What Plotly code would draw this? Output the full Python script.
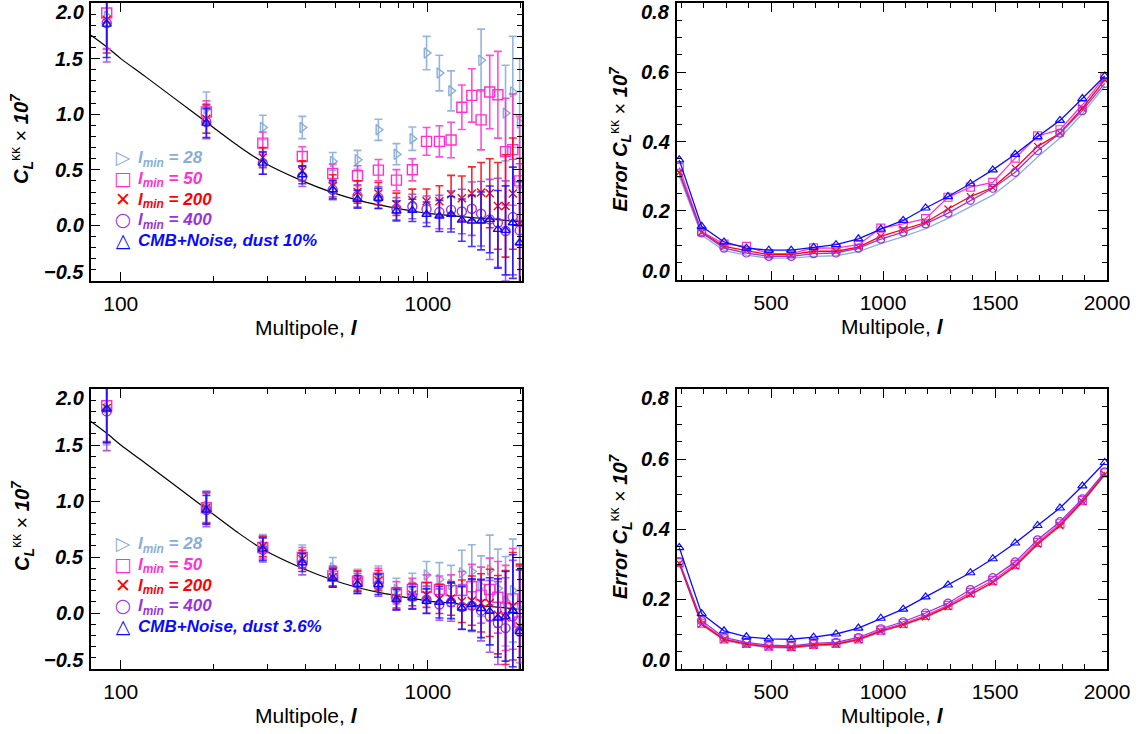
import math
import plotly.graph_objects as go

# ---------------------------------------------------------------- data
ell = [90, 190, 290, 390, 490, 590, 690, 790, 890, 990,
       1090, 1190, 1290, 1390, 1490, 1590, 1690, 1790, 1890, 1990]

# fiducial lensing power spectrum (x 1e7)
theory_l = [80, 90, 100, 120, 150, 190, 240, 290, 390, 490, 590, 690,
            790, 890, 990, 1190, 1390, 1590, 1790, 1990, 2030]
theory_c = [1.71, 1.605, 1.50, 1.34, 1.14, 0.928, 0.72, 0.57, 0.40, 0.295, 0.228, 0.184,
            0.154, 0.13, 0.108, 0.088, 0.07, 0.058, 0.045, 0.033, 0.031]

# reconstructed spectra, dust 10%
c28_a = [1.88, 1.05, 0.88, 0.88, 0.575, 0.59, 0.86, 0.64, 0.78, 1.55,
         1.37, 1.21, 2.45, 2.70, 1.485, 2.50, 2.65, 1.01, 1.20, 0.92]
e28_a = [0.30, 0.15, 0.11, 0.10, 0.08, 0.085, 0.095, 0.095, 0.105, 0.15,
         0.16, 0.18, 0.22, 0.25, 0.28, 0.32, 0.36, 0.43, 0.50, 0.58]
c50_a = [1.91, 1.02, 0.74, 0.62, 0.467, 0.446, 0.497, 0.407, 0.50, 0.756,
         0.756, 0.768, 1.063, 1.169, 0.949, 1.199, 1.175, 0.663, 0.681, 0.40]
e50_a = [0.32, 0.10, 0.10, 0.087, 0.085, 0.09, 0.095, 0.095, 0.10, 0.125,
         0.14, 0.16, 0.20, 0.24, 0.27, 0.33, 0.39, 0.48, 0.50, 0.58]
c200_a = [1.85, 0.96, 0.61, 0.49, 0.355, 0.30, 0.286, 0.19, 0.226, 0.217,
          0.217, 0.28, 0.244, 0.286, 0.295, 0.289, 0.175, 0.175, 0.286, 0.024]
e200_a = [0.30, 0.13, 0.09, 0.09, 0.10, 0.10, 0.10, 0.10, 0.10, 0.11,
          0.14, 0.17, 0.20, 0.24, 0.27, 0.31, 0.39, 0.46, 0.50, 0.58]
c400_a = [1.82, 0.93, 0.56, 0.44, 0.32, 0.265, 0.25, 0.15, 0.17, 0.145,
          0.12, 0.14, 0.125, 0.15, 0.105, 0.054, 0.024, -0.05, 0.075, -0.045]
e400_a = [0.35, 0.15, 0.10, 0.09, 0.09, 0.10, 0.10, 0.10, 0.11, 0.12,
          0.15, 0.17, 0.20, 0.24, 0.29, 0.36, 0.40, 0.45, 0.52, 0.60]
cmb_a = [1.81, 0.92, 0.56, 0.455, 0.32, 0.235, 0.244, 0.13, 0.135, 0.10,
         0.085, 0.10, 0.048, 0.04, 0.04, 0.054, -0.036, -0.045, 0.024, -0.156]
ecmb_a = [0.30, 0.13, 0.10, 0.08, 0.08, 0.08, 0.09, 0.09, 0.10, 0.11,
          0.14, 0.16, 0.19, 0.23, 0.26, 0.30, 0.35, 0.40, 0.50, 0.55]

# reconstructed spectra, dust 3.6%
c28_b = [1.83, 0.95, 0.60, 0.517, 0.405, 0.30, 0.32, 0.21, 0.255, 0.34,
         0.30, 0.255, 0.36, 0.37, 0.24, 0.385, 0.22, 0.105, 0.20, 0.075]
e28_b = [0.33, 0.14, 0.10, 0.09, 0.09, 0.09, 0.10, 0.10, 0.10, 0.12,
         0.15, 0.17, 0.20, 0.24, 0.27, 0.31, 0.35, 0.40, 0.46, 0.52]
c50_b = [1.85, 0.94, 0.585, 0.495, 0.33, 0.285, 0.31, 0.18, 0.21, 0.23,
         0.21, 0.20, 0.20, 0.234, 0.16, 0.21, 0.14, 0.045, 0.126, -0.08]
e50_b = [0.33, 0.14, 0.10, 0.09, 0.09, 0.09, 0.09, 0.10, 0.10, 0.11,
         0.12, 0.14, 0.17, 0.20, 0.25, 0.28, 0.32, 0.38, 0.45, 0.52]
c200_b = [1.83, 0.94, 0.595, 0.48, 0.32, 0.285, 0.29, 0.135, 0.165, 0.16,
          0.126, 0.13, 0.105, 0.11, 0.09, 0.09, -0.015, -0.04, 0.06, -0.12]
e200_b = [0.30, 0.14, 0.09, 0.08, 0.08, 0.09, 0.09, 0.09, 0.10, 0.11,
          0.13, 0.15, 0.19, 0.22, 0.26, 0.30, 0.35, 0.42, 0.48, 0.55]
c400_b = [1.80, 0.92, 0.565, 0.44, 0.32, 0.265, 0.25, 0.126, 0.15, 0.12,
          0.075, 0.096, 0.054, 0.066, 0.021, -0.03, -0.09, -0.135, -0.03, -0.165]
e400_b = [0.35, 0.15, 0.11, 0.10, 0.09, 0.09, 0.10, 0.10, 0.11, 0.12,
          0.14, 0.17, 0.20, 0.23, 0.27, 0.32, 0.37, 0.45, 0.50, 0.58]
cmb_b = [1.82, 0.92, 0.57, 0.45, 0.31, 0.255, 0.255, 0.12, 0.135, 0.105,
         0.096, 0.11, 0.045, 0.075, 0.04, 0.015, -0.045, -0.03, 0.02, -0.165]
ecmb_b = [0.30, 0.13, 0.10, 0.08, 0.08, 0.08, 0.09, 0.09, 0.10, 0.11,
          0.14, 0.16, 0.19, 0.23, 0.26, 0.30, 0.35, 0.40, 0.50, 0.55]

# error on C_L, dust 10%
s28_a = [0.300, 0.130, 0.085, 0.072, 0.063, 0.063, 0.068, 0.070, 0.082, 0.105,
         0.125, 0.148, 0.178, 0.212, 0.245, 0.295, 0.355, 0.410, 0.480, 0.560]
s50_a = [0.325, 0.140, 0.104, 0.097, 0.076, 0.076, 0.093, 0.092, 0.102, 0.150,
         0.162, 0.177, 0.239, 0.268, 0.282, 0.352, 0.416, 0.434, 0.506, 0.586]
s200_a = [0.311, 0.138, 0.097, 0.086, 0.073, 0.073, 0.083, 0.083, 0.095, 0.126,
          0.145, 0.166, 0.205, 0.241, 0.267, 0.323, 0.386, 0.424, 0.496, 0.578]
s400_a = [0.309, 0.136, 0.092, 0.078, 0.068, 0.068, 0.076, 0.078, 0.092, 0.118,
          0.138, 0.162, 0.193, 0.230, 0.265, 0.311, 0.374, 0.424, 0.489, 0.568]
scmb_a = [0.347, 0.155, 0.110, 0.092, 0.086, 0.086, 0.094, 0.102, 0.119, 0.147,
          0.172, 0.208, 0.241, 0.278, 0.318, 0.363, 0.414, 0.461, 0.524, 0.589]

# error on C_L, dust 3.6%
s28_b = [0.300, 0.126, 0.082, 0.069, 0.061, 0.060, 0.066, 0.069, 0.082, 0.106,
         0.125, 0.147, 0.176, 0.212, 0.246, 0.292, 0.355, 0.408, 0.476, 0.554]
s50_b = [0.304, 0.131, 0.086, 0.073, 0.065, 0.064, 0.070, 0.073, 0.086, 0.111,
         0.130, 0.153, 0.182, 0.219, 0.253, 0.299, 0.362, 0.415, 0.482, 0.560]
s200_b = [0.302, 0.128, 0.084, 0.071, 0.063, 0.062, 0.068, 0.071, 0.084, 0.108,
          0.127, 0.149, 0.178, 0.214, 0.248, 0.294, 0.357, 0.410, 0.478, 0.556]
s400_b = [0.307, 0.138, 0.090, 0.076, 0.068, 0.066, 0.073, 0.076, 0.090, 0.115,
          0.135, 0.160, 0.188, 0.227, 0.261, 0.306, 0.369, 0.421, 0.486, 0.563]
scmb_b = [0.347, 0.158, 0.109, 0.092, 0.086, 0.085, 0.091, 0.100, 0.117, 0.145,
          0.171, 0.206, 0.240, 0.275, 0.315, 0.360, 0.410, 0.460, 0.523, 0.590]

legend_labels_a = ["28", "50", "200", "400", "CMB+Noise, dust 10%"]
legend_labels_b = ["28", "50", "200", "400", "CMB+Noise, dust 3.6%"]
ytick_left = [-0.5, 0.0, 0.5, 1.0, 1.5, 2.0]
ytick_right = [0.0, 0.2, 0.4, 0.6, 0.8]
xtick_log = [100, 1000]
xminor_log = [200, 300, 400, 500, 600, 700, 800, 900, 2000]
xtick_lin = [500, 1000, 1500, 2000]

# ---------------------------------------------------------------- style
W, H = 1141, 734
FONT = "Liberation Sans, Arial, Helvetica, sans-serif"
COL = {"28": "#8aaed8", "50": "#ff30d0", "200": "#ff0000",
       "400": "#9a33dd", "cmb": "#0a0aff"}
ERRCOL = {"28": "rgba(138,174,216,0.9)", "50": "rgba(255,48,208,0.85)",
          "200": "rgba(255,0,0,0.85)", "400": "rgba(154,51,221,0.8)",
          "cmb": "rgba(10,10,255,0.8)"}
SYM = {"28": "triangle-right-open", "50": "square-open", "200": "x-thin-open",
       "400": "circle-open", "cmb": "triangle-up-open"}
MSIZE = {"28": 9, "50": 10, "200": 8, "400": 9, "cmb": 8}
GLYPH = {"28": "▷", "50": "□", "200": "✕", "400": "○", "cmb": "△"}
KEYS = ["28", "50", "200", "400", "cmb"]

# panel boxes in pixels: (left, right, top, bottom)
BOX = {1: (91, 522, 3, 281), 2: (677, 1107, 3, 280),
       3: (91, 522, 389, 669), 4: (677, 1107, 389, 669)}


def xdom(b):
    return [b[0] / W, b[1] / W]


def ydom(b):
    return [1 - b[3] / H, 1 - b[2] / H]


fig = go.Figure()


def sfx(i):
    return "" if i == 1 else str(i)


def spectrum_panel(i, series, errs):
    s = sfx(i)
    fig.add_trace(go.Scatter(x=theory_l, y=theory_c, mode="lines",
                             line=dict(color="black", width=1.2, shape="spline",
                                       smoothing=0.8),
                             xaxis="x" + s, yaxis="y" + s, hoverinfo="skip"))
    for k, vals, err in zip(KEYS, series, errs):
        fig.add_trace(go.Scatter(
            x=ell, y=vals, mode="markers", xaxis="x" + s, yaxis="y" + s,
            marker=dict(symbol=SYM[k], size=MSIZE[k], color=COL[k],
                        line=dict(color=COL[k], width=1.4)),
            error_y=dict(type="data", array=err, color=ERRCOL[k],
                         thickness=1.6, width=4)))


def error_panel(i, series):
    s = sfx(i)
    for k, vals in zip(KEYS, series):
        fig.add_trace(go.Scatter(
            x=ell, y=vals, mode="lines" if k == "28" else "lines+markers",
            xaxis="x" + s, yaxis="y" + s,
            line=dict(color=COL[k], width=1.3),
            marker=dict(symbol=SYM[k], size=8 if k != "200" else 7, color=COL[k],
                        line=dict(color=COL[k], width=1.2))))


spectrum_panel(1, [c28_a, c50_a, c200_a, c400_a, cmb_a],
               [e28_a, e50_a, e200_a, e400_a, ecmb_a])
error_panel(2, [s28_a, s50_a, s200_a, s400_a, scmb_a])
spectrum_panel(3, [c28_b, c50_b, c200_b, c400_b, cmb_b],
               [e28_b, e50_b, e200_b, e400_b, ecmb_b])
error_panel(4, [s28_b, s50_b, s200_b, s400_b, scmb_b])

base_axis = dict(showline=True, linecolor="black", linewidth=1.8,
                 mirror="allticks", ticks="inside", ticklen=9, tickwidth=1.4,
                 tickcolor="black", showgrid=False, zeroline=False,
                 automargin=False)
xfont = dict(family=FONT, size=21, color="black")

layout = dict(width=W, height=H, margin=dict(l=0, r=0, t=0, b=0),
              paper_bgcolor="white", plot_bgcolor="white", showlegend=False)

for i in (1, 2, 3, 4):
    s = sfx(i)
    b = BOX[i]
    if i in (1, 3):
        xa = dict(base_axis, type="log", domain=xdom(b),
                  range=[math.log10(80), math.log10(2025)],
                  tickmode="array", tickvals=xtick_log,
                  ticktext=[str(v) for v in xtick_log], tickfont=xfont,
                  ticklabelstandoff=3,
                  minor=dict(tickmode="array", tickvals=xminor_log, ticks="inside",
                             ticklen=5, tickwidth=1.2, tickcolor="black"))
        ya = dict(base_axis, domain=ydom(b), range=[-0.5, 2.0],
                  tickmode="linear", tick0=-0.5, dtick=0.5, showticklabels=False,
                  minor=dict(tick0=0, dtick=0.1, ticks="inside", ticklen=5,
                             tickwidth=1.2, tickcolor="black"))
    else:
        xa = dict(base_axis, domain=xdom(b), range=[80, 2000],
                  tickmode="array", tickvals=xtick_lin,
                  ticktext=[str(v) for v in xtick_lin], tickfont=xfont,
                  ticklabelstandoff=3,
                  minor=dict(tick0=0, dtick=100, ticks="inside", ticklen=5,
                             tickwidth=1.2, tickcolor="black"))
        ya = dict(base_axis, domain=ydom(b), range=[0, 0.8],
                  tickmode="linear", tick0=0, dtick=0.2, showticklabels=False,
                  minor=dict(tick0=0, dtick=0.05, ticks="inside", ticklen=5,
                             tickwidth=1.2, tickcolor="black"))
    xa["anchor"] = "y" + s
    ya["anchor"] = "x" + s
    layout["xaxis" + s] = xa
    layout["yaxis" + s] = ya

ann = []
tickfont = dict(family=FONT, size=20, color="black")

# y tick labels (end labels tucked inside the frame)
for i in (1, 2, 3, 4):
    s = sfx(i)
    ticks = ytick_left if i in (1, 3) else ytick_right
    for j, v in enumerate(ticks):
        shift = 0
        if j == 0:
            shift = 9
        elif j == len(ticks) - 1:
            shift = -9
        lab = f"{v:.1f}".replace("-", "−")
        ann.append(dict(xref=f"x{s} domain", yref=f"y{s}", x=0, y=v,
                        text=f"<b><i>{lab}</i></b>", showarrow=False,
                        xanchor="right", yanchor="middle", xshift=-5, yshift=shift,
                        font=tickfont))

# axis titles
ytitle_left = "<b><i>C<sub>L</sub></i></b><sup>κκ</sup> × <b><i>10<sup>7</sup></i></b>"
ytitle_right = "<b><i>Error C<sub>L</sub></i></b><sup>κκ</sup> × <b><i>10<sup>7</sup></i></b>"
for i in (1, 2, 3, 4):
    b = BOX[i]
    cx = 22 if i in (1, 3) else 620
    cy = (b[2] + b[3]) / 2 - 3
    ann.append(dict(xref="paper", yref="paper", x=cx / W, y=1 - cy / H,
                    text=ytitle_left if i in (1, 3) else ytitle_right,
                    textangle=-90, showarrow=False, xanchor="center", yanchor="middle",
                    font=dict(family=FONT, size=20, color="black")))
    ann.append(dict(xref="paper", yref="paper", x=(b[0] + b[1]) / 2 / W,
                    y=1 - (b[3] + 46) / H, text="Multipole, <b><i>l</i></b>",
                    showarrow=False, xanchor="center", yanchor="middle",
                    font=dict(family=FONT, size=21, color="black")))

# in-panel keys: one block of symbols and one block of labels per panel,
# rows spaced by the 16 px base line height (1.3 x 16 ≈ 21 px)
for i, labels in ((1, legend_labels_a), (3, legend_labels_b)):
    b = BOX[i]
    yc = 1 - (b[2] + 154 + 2 * 20.8) / H
    glyph_rows, text_rows = [], []
    for k, lab in zip(KEYS, labels):
        glyph_rows.append(f'<span style="color:{COL[k]};font-size:19px">{GLYPH[k]}</span>')
        txt = lab if k == "cmb" else f"l<sub>min</sub> = {lab}"
        text_rows.append(f'<span style="color:{COL[k]};font-size:17px"><b><i>{txt}</i></b></span>')
    ann.append(dict(xref="paper", yref="paper", x=123 / W, y=yc,
                    text="<br>".join(glyph_rows), showarrow=False,
                    xanchor="center", yanchor="middle", align="center",
                    font=dict(family="DejaVu Sans", size=16, color="black")))
    ann.append(dict(xref="paper", yref="paper", x=136 / W, y=yc,
                    text="<br>".join(text_rows), showarrow=False,
                    xanchor="left", yanchor="middle", align="left",
                    font=dict(family=FONT, size=16, color="black")))

layout["annotations"] = ann
fig.update_layout(**layout)
fig.write_html("out.html")
